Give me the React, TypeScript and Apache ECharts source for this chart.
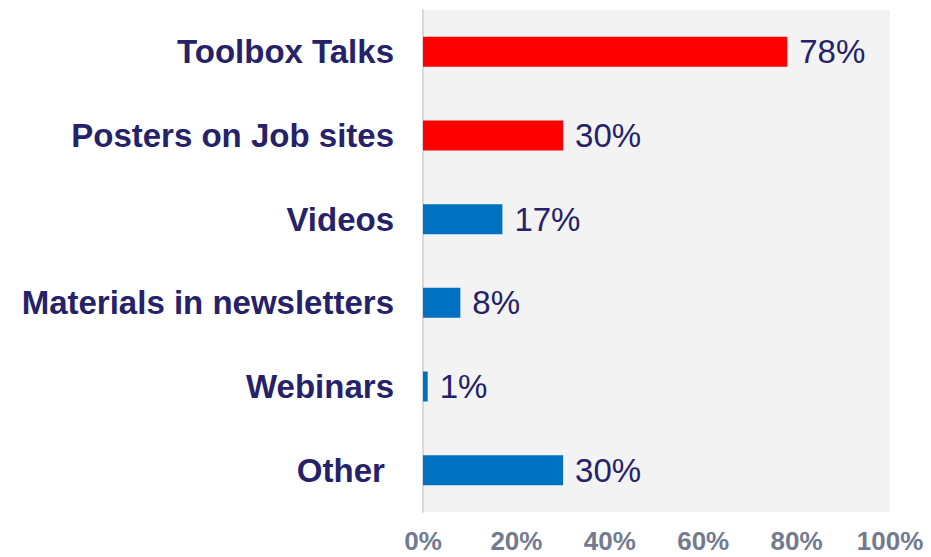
import React, { useEffect, useRef } from "react";
import * as echarts from "echarts";

const categories = ["Toolbox Talks", "Posters on Job sites", "Videos", "Materials in newsletters", "Webinars", "Other "];
const values = [78, 30, 17, 8, 1, 30];
const barColors = ["#ff0000", "#ff0000", "#0070c0", "#0070c0", "#0070c0", "#0070c0"];
const xTicks = [0, 20, 40, 60, 80, 100];

const FONT = "'Liberation Sans', Arial, sans-serif";

export default function App() {
  const ref = useRef<HTMLDivElement>(null);
  useEffect(() => {
    if (!ref.current) return;
    const chart = echarts.init(ref.current, null, { renderer: "svg" });
    chart.setOption({
      animation: false,
      grid: {
        left: 423,
        right: 41,
        top: 10,
        bottom: 45,
        show: true,
        backgroundColor: "#f3f3f3",
        borderWidth: 0,
      },
      xAxis: {
        type: "value",
        min: xTicks[0],
        max: xTicks[xTicks.length - 1],
        interval: 20,
        axisLine: { show: false },
        axisTick: { show: false },
        splitLine: { show: false },
        axisLabel: {
          formatter: "{value}%",
          color: "#737b8f",
          fontWeight: "bold",
          fontSize: 26,
          fontFamily: FONT,
          margin: 16,
        },
      },
      yAxis: {
        type: "category",
        inverse: true,
        data: categories,
        axisLine: { show: true, lineStyle: { color: "#d9d9d9", width: 2 } },
        axisTick: { show: false },
        axisLabel: {
          color: "#26226a",
          fontWeight: "bold",
          fontSize: 33,
          fontFamily: FONT,
          margin: 29,
        },
      },
      series: [
        {
          type: "bar",
          barWidth: 30,
          data: values.map((v, i) => ({ value: v, itemStyle: { color: barColors[i] } })),
          label: {
            show: true,
            position: "right",
            distance: 12,
            formatter: "{c}%",
            color: "#26226a",
            fontSize: 33,
            fontFamily: FONT,
          },
        },
      ],
    });
    return () => chart.dispose();
  }, []);
  return (
    <div
      ref={ref}
      style={{ position: "fixed", left: 0, top: 0, width: 931, height: 557, background: "#ffffff" }}
    />
  );
}
